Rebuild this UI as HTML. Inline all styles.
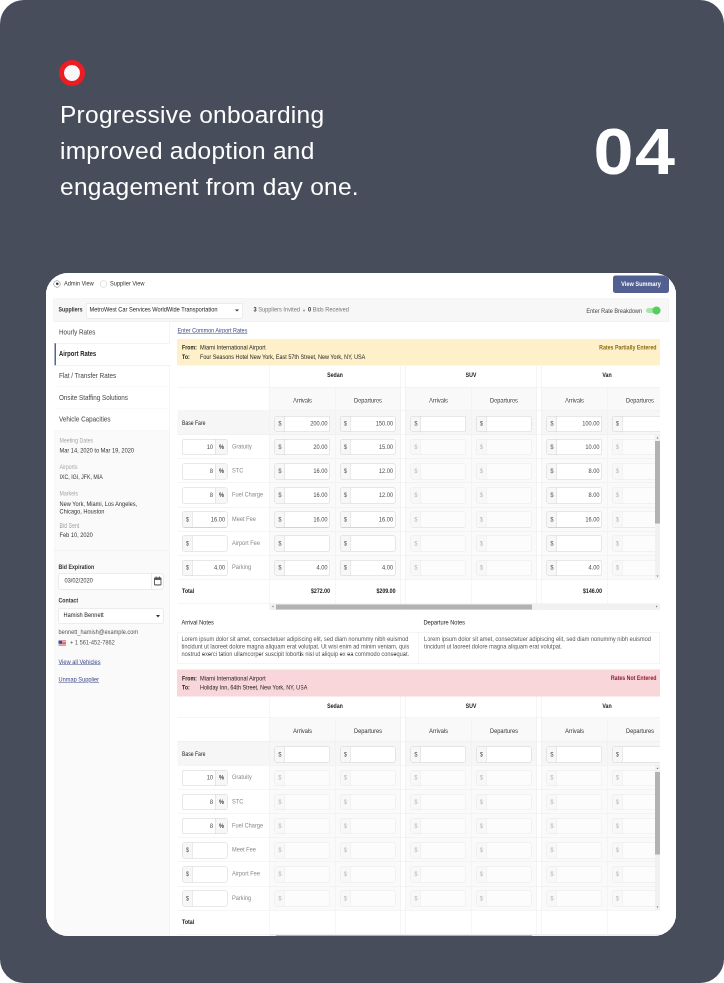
<!DOCTYPE html>
<html lang="en"><head><meta charset="utf-8"><title>Progressive onboarding</title>
<style>
*{box-sizing:border-box;margin:0;padding:0}
html,body{width:724px;height:983px;overflow:hidden;background:#fff}
body{font-family:"Liberation Sans",sans-serif;position:relative}
#bg{position:absolute;left:0;top:0;width:724px;height:983px;background:#474d5b;border-radius:24px;overflow:hidden}
#ring{position:absolute;left:58.9px;top:59.8px;width:26.4px;height:26.4px;border-radius:50%;border:5px solid #ec1c24;background:#f8f8f8}
#head{position:absolute;left:60px;top:97px;color:#fff;font-size:24.5px;line-height:36px;white-space:nowrap;letter-spacing:0.25px}
#num{position:absolute;right:47.5px;top:107.6px;color:#fff;font-size:65.4px;font-weight:bold;line-height:88px;letter-spacing:1.35px;transform:scaleX(1.10);transform-origin:100% 50%}
#card{position:absolute;left:46px;top:272.5px;width:629.8px;height:663px;border-radius:22px;overflow:hidden;background:#fff}
#app{will-change:transform;position:absolute;left:0;top:0;width:1260px;height:1325px;transform:scale(.5);transform-origin:0 0;background:#fff;font-size:13px;color:#333;overflow:hidden}
#app div,#app span{position:absolute;white-space:nowrap}
#app .t{line-height:16px;height:16px;transform:scaleX(0.87);transform-origin:0 50%}
#app .t.c{transform-origin:50% 50%;text-align:center}
#app .t.r{transform-origin:100% 50%;text-align:right}
#app .t.b{transform:scaleX(0.81);font-weight:bold}
#app .t.n{transform:scaleX(.78)}
#app b{font-weight:bold}
.g{color:#777}
.lk{color:#3f4a8a;text-decoration:underline}
.ig{height:32px;border:1px solid #d2d2d2;border-radius:4px;background:#fff;overflow:hidden}
.ig .ad{top:0;bottom:0;width:20px;background:#f7f7f7;border-right:1px solid #d6d6d6}
.ig .ad.rt{border-right:0;border-left:1px solid #d6d6d6}
.dis{opacity:.42}
.hl{height:1px;background:#ececec}
.vl{width:1px;background:#efefef}
</style></head>
<body>
<div id="bg">
<div id="ring"></div>
<div id="head">Progressive onboarding<br>improved adoption and<br>engagement from day one.</div>
<div id="num">04</div>
<div id="card"><div id="app">
<div class="" style="left:15px;top:14.7px;width:14px;height:14px;border:1.5px solid #6a6a6a;border-radius:50%;background:#fff"></div>
<div class="" style="left:19.5px;top:19.2px;width:5px;height:5px;border-radius:50%;background:#333"></div>
<span class="t " style="top:13.2px;left:36px;">Admin View</span>
<div class="" style="left:107.5px;top:14.7px;width:14px;height:14px;border:1.5px solid #c4c4c4;border-radius:50%;background:#fff"></div>
<span class="t " style="top:13.2px;left:128px;">Supplier View</span>
<div class="" style="left:1134px;top:4.5px;width:112px;height:35px;background:#515f91;border-radius:5px"></div>
<span class="t c  b" style="top:13.7px;left:1120.0px;width:140px;color:#fff;font-weight:bold;transform:scaleX(.86)"><b>View Summary</b></span>
<div class="" style="left:15px;top:50.5px;width:1231px;height:47.5px;background:#f7f7f7;border:1px solid #ececec"></div>
<span class="t  b" style="top:64.7px;left:25px;"><b>Suppliers</b></span>
<div class="" style="left:80px;top:59.5px;width:313.5px;height:31.5px;background:#fff;border:1px solid #dcdcdc;border-radius:4px"></div>
<span class="t " style="top:65.2px;left:87px;color:#222">MetroWest Car Services WorldWide Transportation</span>
<div class="" style="left:377.5px;top:72.5px;width:0px;height:0px;border-left:4px solid transparent;border-right:4px solid transparent;border-top:4.5px solid #333"></div>
<span class="t " style="top:64.7px;left:415px;"><b>3</b> <span style="position:static" class="g">Suppliers Invited</span></span>
<div class="" style="left:514px;top:72.5px;width:4px;height:4px;border-radius:50%;background:#999"></div>
<span class="t " style="top:64.7px;left:524px;"><b>0</b> <span style="position:static" class="g">Bids Received</span></span>
<span class="t r " style="top:67.5px;left:992px;width:200px;transform:scaleX(.85);color:#444">Enter Rate Breakdown</span>
<div class="" style="left:1200px;top:70px;width:28px;height:10px;background:#a9e5a9;border-radius:5px"></div>
<div class="" style="left:1213px;top:67px;width:16px;height:16px;background:#52d05e;border-radius:50%"></div>
<div class="" style="left:17px;top:98px;width:230px;height:1240px;background:#fafafa;border-right:1px solid #ececec;border-left:1px solid #f0f0f0"></div>
<div class="" style="left:17px;top:97.5px;width:230px;height:43.6px;background:#fff;border-bottom:1px solid #f4f4f4;border-right:1px solid #ececec"></div>
<span class="t " style="top:109.7px;left:26px;color:#444;font-size:14.5px">Hourly Rates</span>
<div class="" style="left:17px;top:140.1px;width:231px;height:44.6px;background:#fff;border-top:1px solid #e8e8e8;border-bottom:1px solid #e8e8e8;border-left:3px solid #56639a"></div>
<span class="t  b" style="top:153.29999999999998px;left:26px;color:#222;font-size:14.5px"><b>Airport Rates</b></span>
<div class="" style="left:17px;top:184.7px;width:230px;height:43.6px;background:#fff;border-bottom:1px solid #f4f4f4;border-right:1px solid #ececec"></div>
<span class="t " style="top:196.89999999999998px;left:26px;color:#444;font-size:14.5px">Flat / Transfer Rates</span>
<div class="" style="left:17px;top:228.3px;width:230px;height:43.6px;background:#fff;border-bottom:1px solid #f4f4f4;border-right:1px solid #ececec"></div>
<span class="t " style="top:240.5px;left:26px;color:#444;font-size:14.5px">Onsite Staffing Solutions</span>
<div class="" style="left:17px;top:271.9px;width:230px;height:43.6px;background:#fff;border-bottom:1px solid #f4f4f4;border-right:1px solid #ececec"></div>
<span class="t " style="top:284.09999999999997px;left:26px;color:#444;font-size:14.5px">Vehicle Capacities</span>
<span class="t " style="top:327.0px;left:27px;font-size:12px;color:#a5a5a5">Meeting Dates</span>
<span class="t " style="top:347.3px;left:27px;font-size:13px;color:#333">Mar 14, 2020 to Mar 19, 2020</span>
<span class="t " style="top:379.5px;left:27px;font-size:12px;color:#a5a5a5">Airports</span>
<span class="t " style="top:400.3px;left:27px;font-size:13px;color:#333;transform:scaleX(.81)">IXC, IGI, JFK, MIA</span>
<span class="t " style="top:433.0px;left:27px;font-size:12px;color:#a5a5a5">Markets</span>
<span class="t " style="top:453.8px;left:27px;font-size:13px;color:#333">New York, Miami, Los Angeles,</span>
<span class="t " style="top:469.3px;left:27px;font-size:13px;color:#333">Chicago, Houston</span>
<span class="t " style="top:496.5px;left:27px;font-size:12px;color:#a5a5a5">Bid Sent</span>
<span class="t " style="top:516.3000000000001px;left:27px;font-size:13px;color:#333">Feb 10, 2020</span>
<div class="hl" style="left:15px;top:555px;width:232px;height:1px;"></div>
<span class="t  b" style="top:579.5px;left:25px;"><b>Bid Expiration</b></span>
<div class="" style="left:25px;top:600px;width:210px;height:32.5px;background:#fff;border:1px solid #dcdcdc;border-radius:4px"></div>
<div class="" style="left:211px;top:600px;width:24px;height:32.5px;background:#fff;border:1px solid #dcdcdc;border-radius:0 4px 4px 0"></div>
<svg style="position:absolute;left:215.5px;top:607px" width="15" height="18" viewBox="0 0 12 13" preserveAspectRatio="none"><rect x="0.8" y="2" width="10.4" height="10.2" rx="1.2" fill="none" stroke="#555" stroke-width="1.5"/><rect x="0.8" y="2" width="10.4" height="3" fill="#555"/><rect x="2.6" y="0" width="1.6" height="3" fill="#555"/><rect x="7.8" y="0" width="1.6" height="3" fill="#555"/></svg>
<span class="t " style="top:607.2px;left:36.5px;color:#333">03/02/2020</span>
<span class="t  b" style="top:646.7px;left:25px;"><b>Contact</b></span>
<div class="" style="left:25px;top:669.8px;width:210px;height:32.2px;background:#fff;border:1px solid #dcdcdc;border-radius:4px"></div>
<span class="t " style="top:676.2px;left:35px;color:#222">Hamish Bennett</span>
<div class="" style="left:220px;top:683.5px;width:0px;height:0px;border-left:4.5px solid transparent;border-right:4.5px solid transparent;border-top:5px solid #333"></div>
<span class="t " style="top:709.7px;left:25px;color:#555">bennett_hamish@example.com</span>
<svg style="position:absolute;left:25px;top:735px" width="15" height="10" viewBox="0 0 15 10"><rect width="15" height="10" fill="#f3e9ea"/><g fill="#c8323f"><rect y="0" width="15" height="1.4"/><rect y="2.8" width="15" height="1.4"/><rect y="5.6" width="15" height="1.4"/><rect y="8.4" width="15" height="1.6"/></g><rect width="7" height="5.6" fill="#3c4a9a"/></svg>
<span class="t " style="top:730.7px;left:48px;color:#555">+ 1 561-452-7862</span>
<span class="t lk" style="top:769.7px;left:25px;">View all Vehicles</span>
<span class="t lk" style="top:804.7px;left:25px;">Unmap Supplier</span>
<span class="t lk" style="top:107.2px;left:262.5px;transform:scaleX(.84)">Enter Common Airport Rates</span>
<div class="" style="left:261.5px;top:131.5px;width:966.5px;height:53.5px;background:#fef1c9"></div>
<span class="t  b" style="top:141.2px;left:272px;color:#222"><b>From:</b></span>
<span class="t " style="top:141.2px;left:308px;color:#222">Miami International Airport</span>
<span class="t  b" style="top:159.7px;left:272px;color:#222"><b>To:</b></span>
<span class="t " style="top:159.7px;left:308px;color:#222;transform:scaleX(.84)">Four Seasons Hotel New York, East 57th Street, New York, NY, USA</span>
<span class="t r  b" style="top:140.7px;left:920.5px;width:300px;color:#8a6914"><b>Rates Partially Entered</b></span>
<div style="left:262.5px;top:185px;width:965.5px;height:490px;overflow:hidden">
<div class="" style="left:184.5px;top:43.5px;width:990px;height:47px;background:#f9f9f9"></div>
<div class="" style="left:0px;top:90.5px;width:990px;height:48.25px;background:#f6f6f6"></div>
<div class="" style="left:184.5px;top:138.75px;width:262px;height:289.5px;background:#fafafa"></div>
<div class="" style="left:456.5px;top:138.75px;width:262px;height:289.5px;background:#fafafa"></div>
<div class="" style="left:728.5px;top:138.75px;width:262px;height:289.5px;background:#fafafa"></div>
<div class="" style="left:446.5px;top:0px;width:10px;height:490px;background:#fff;border-left:1px solid #ececec;border-right:1px solid #ececec"></div>
<div class="" style="left:718.5px;top:0px;width:10px;height:490px;background:#fff;border-left:1px solid #ececec;border-right:1px solid #ececec"></div>
<div class="hl" style="left:0px;top:42.5px;width:990px;height:1px;"></div>
<div class="hl" style="left:0px;top:89.5px;width:990px;height:1px;"></div>
<div class="hl" style="left:0px;top:137.75px;width:990px;height:1px;"></div>
<div class="hl" style="left:0px;top:186.0px;width:990px;height:1px;"></div>
<div class="hl" style="left:0px;top:234.25px;width:990px;height:1px;"></div>
<div class="hl" style="left:0px;top:282.5px;width:990px;height:1px;"></div>
<div class="hl" style="left:0px;top:330.75px;width:990px;height:1px;"></div>
<div class="hl" style="left:0px;top:379.0px;width:990px;height:1px;"></div>
<div class="hl" style="left:0px;top:427.25px;width:990px;height:1px;"></div>
<div class="hl" style="left:0px;top:475.5px;width:990px;height:1px;"></div>
<div class="vl" style="left:183.5px;top:0px;width:1px;height:476px;"></div>
<div class="vl" style="left:315.5px;top:43.5px;width:1px;height:432.5px;"></div>
<div class="vl" style="left:587.5px;top:43.5px;width:1px;height:432.5px;"></div>
<div class="vl" style="left:859.5px;top:43.5px;width:1px;height:432.5px;"></div>
<span class="t c  b" style="top:11.2px;left:215.5px;width:200px;color:#222"><b>Sedan</b></span>
<span class="t c " style="top:61.7px;left:150.0px;width:200px;color:#333">Arrivals</span>
<span class="t c " style="top:61.7px;left:281.0px;width:200px;color:#333">Departures</span>
<span class="t c  b" style="top:11.2px;left:487.5px;width:200px;color:#222"><b>SUV</b></span>
<span class="t c " style="top:61.7px;left:422.0px;width:200px;color:#333">Arrivals</span>
<span class="t c " style="top:61.7px;left:553.0px;width:200px;color:#333">Departures</span>
<span class="t c  b" style="top:11.2px;left:759.5px;width:200px;color:#222"><b>Van</b></span>
<span class="t c " style="top:61.7px;left:694.0px;width:200px;color:#333">Arrivals</span>
<span class="t c " style="top:61.7px;left:825.0px;width:200px;color:#333">Departures</span>
<span class="t n" style="top:107.2px;left:9.5px;color:#222">Base Fare</span>
<div class="ig" style="left:194.5px;top:100.5px;width:111px"><div class="ad" style="left:0"></div><span class="t c" style="left:-20.5px;width:60px;top:6.5px;color:#555">$</span><span class="t r" style="left:-15px;width:120px;top:6.5px;color:#484848">200.00</span></div>
<div class="ig" style="left:325.5px;top:100.5px;width:111px"><div class="ad" style="left:0"></div><span class="t c" style="left:-20.5px;width:60px;top:6.5px;color:#555">$</span><span class="t r" style="left:-15px;width:120px;top:6.5px;color:#484848">150.00</span></div>
<div class="ig" style="left:466.5px;top:100.5px;width:111px"><div class="ad" style="left:0"></div><span class="t c" style="left:-20.5px;width:60px;top:6.5px;color:#555">$</span></div>
<div class="ig" style="left:597.5px;top:100.5px;width:111px"><div class="ad" style="left:0"></div><span class="t c" style="left:-20.5px;width:60px;top:6.5px;color:#555">$</span></div>
<div class="ig" style="left:738.5px;top:100.5px;width:111px"><div class="ad" style="left:0"></div><span class="t c" style="left:-20.5px;width:60px;top:6.5px;color:#555">$</span><span class="t r" style="left:-15px;width:120px;top:6.5px;color:#484848">100.00</span></div>
<div class="ig" style="left:869.5px;top:100.5px;width:111px"><div class="ad" style="left:0"></div><span class="t c" style="left:-20.5px;width:60px;top:6.5px;color:#555">$</span></div>
<div class="ig" style="left:9.5px;top:147.25px;width:91px"><div class="ad rt" style="right:0;width:24px"></div><span class="t c" style="left:48px;width:60px;top:6.5px;color:#444;font-size:13px"><b>%</b></span><span class="t r" style="left:-59px;width:120px;top:6.5px;color:#484848">10</span></div>
<span class="t " style="top:153.95px;left:109px;color:#888">Gratuity</span>
<div class="ig" style="left:194.5px;top:147.25px;width:111px"><div class="ad" style="left:0"></div><span class="t c" style="left:-20.5px;width:60px;top:6.5px;color:#555">$</span><span class="t r" style="left:-15px;width:120px;top:6.5px;color:#484848">20.00</span></div>
<div class="ig" style="left:325.5px;top:147.25px;width:111px"><div class="ad" style="left:0"></div><span class="t c" style="left:-20.5px;width:60px;top:6.5px;color:#555">$</span><span class="t r" style="left:-15px;width:120px;top:6.5px;color:#484848">15.00</span></div>
<div class="ig dis" style="left:466.5px;top:147.25px;width:111px"><div class="ad" style="left:0"></div><span class="t c" style="left:-20.5px;width:60px;top:6.5px;color:#555">$</span></div>
<div class="ig dis" style="left:597.5px;top:147.25px;width:111px"><div class="ad" style="left:0"></div><span class="t c" style="left:-20.5px;width:60px;top:6.5px;color:#555">$</span></div>
<div class="ig" style="left:738.5px;top:147.25px;width:111px"><div class="ad" style="left:0"></div><span class="t c" style="left:-20.5px;width:60px;top:6.5px;color:#555">$</span><span class="t r" style="left:-15px;width:120px;top:6.5px;color:#484848">10.00</span></div>
<div class="ig dis" style="left:869.5px;top:147.25px;width:111px"><div class="ad" style="left:0"></div><span class="t c" style="left:-20.5px;width:60px;top:6.5px;color:#555">$</span></div>
<div class="ig" style="left:9.5px;top:195.5px;width:91px"><div class="ad rt" style="right:0;width:24px"></div><span class="t c" style="left:48px;width:60px;top:6.5px;color:#444;font-size:13px"><b>%</b></span><span class="t r" style="left:-59px;width:120px;top:6.5px;color:#484848">8</span></div>
<span class="t " style="top:202.2px;left:109px;color:#888">STC</span>
<div class="ig" style="left:194.5px;top:195.5px;width:111px"><div class="ad" style="left:0"></div><span class="t c" style="left:-20.5px;width:60px;top:6.5px;color:#555">$</span><span class="t r" style="left:-15px;width:120px;top:6.5px;color:#484848">16.00</span></div>
<div class="ig" style="left:325.5px;top:195.5px;width:111px"><div class="ad" style="left:0"></div><span class="t c" style="left:-20.5px;width:60px;top:6.5px;color:#555">$</span><span class="t r" style="left:-15px;width:120px;top:6.5px;color:#484848">12.00</span></div>
<div class="ig dis" style="left:466.5px;top:195.5px;width:111px"><div class="ad" style="left:0"></div><span class="t c" style="left:-20.5px;width:60px;top:6.5px;color:#555">$</span></div>
<div class="ig dis" style="left:597.5px;top:195.5px;width:111px"><div class="ad" style="left:0"></div><span class="t c" style="left:-20.5px;width:60px;top:6.5px;color:#555">$</span></div>
<div class="ig" style="left:738.5px;top:195.5px;width:111px"><div class="ad" style="left:0"></div><span class="t c" style="left:-20.5px;width:60px;top:6.5px;color:#555">$</span><span class="t r" style="left:-15px;width:120px;top:6.5px;color:#484848">8.00</span></div>
<div class="ig dis" style="left:869.5px;top:195.5px;width:111px"><div class="ad" style="left:0"></div><span class="t c" style="left:-20.5px;width:60px;top:6.5px;color:#555">$</span></div>
<div class="ig" style="left:9.5px;top:243.75px;width:91px"><div class="ad rt" style="right:0;width:24px"></div><span class="t c" style="left:48px;width:60px;top:6.5px;color:#444;font-size:13px"><b>%</b></span><span class="t r" style="left:-59px;width:120px;top:6.5px;color:#484848">8</span></div>
<span class="t " style="top:250.45px;left:109px;color:#888">Fuel Charge</span>
<div class="ig" style="left:194.5px;top:243.75px;width:111px"><div class="ad" style="left:0"></div><span class="t c" style="left:-20.5px;width:60px;top:6.5px;color:#555">$</span><span class="t r" style="left:-15px;width:120px;top:6.5px;color:#484848">16.00</span></div>
<div class="ig" style="left:325.5px;top:243.75px;width:111px"><div class="ad" style="left:0"></div><span class="t c" style="left:-20.5px;width:60px;top:6.5px;color:#555">$</span><span class="t r" style="left:-15px;width:120px;top:6.5px;color:#484848">12.00</span></div>
<div class="ig dis" style="left:466.5px;top:243.75px;width:111px"><div class="ad" style="left:0"></div><span class="t c" style="left:-20.5px;width:60px;top:6.5px;color:#555">$</span></div>
<div class="ig dis" style="left:597.5px;top:243.75px;width:111px"><div class="ad" style="left:0"></div><span class="t c" style="left:-20.5px;width:60px;top:6.5px;color:#555">$</span></div>
<div class="ig" style="left:738.5px;top:243.75px;width:111px"><div class="ad" style="left:0"></div><span class="t c" style="left:-20.5px;width:60px;top:6.5px;color:#555">$</span><span class="t r" style="left:-15px;width:120px;top:6.5px;color:#484848">8.00</span></div>
<div class="ig dis" style="left:869.5px;top:243.75px;width:111px"><div class="ad" style="left:0"></div><span class="t c" style="left:-20.5px;width:60px;top:6.5px;color:#555">$</span></div>
<div class="ig" style="left:9.5px;top:292.0px;width:91px"><div class="ad" style="left:0"></div><span class="t c" style="left:-20.5px;width:60px;top:6.5px;color:#555">$</span><span class="t r" style="left:-35px;width:120px;top:6.5px;color:#484848">16.00</span></div>
<span class="t " style="top:298.7px;left:109px;color:#888">Meet Fee</span>
<div class="ig" style="left:194.5px;top:292.0px;width:111px"><div class="ad" style="left:0"></div><span class="t c" style="left:-20.5px;width:60px;top:6.5px;color:#555">$</span><span class="t r" style="left:-15px;width:120px;top:6.5px;color:#484848">16.00</span></div>
<div class="ig" style="left:325.5px;top:292.0px;width:111px"><div class="ad" style="left:0"></div><span class="t c" style="left:-20.5px;width:60px;top:6.5px;color:#555">$</span><span class="t r" style="left:-15px;width:120px;top:6.5px;color:#484848">16.00</span></div>
<div class="ig dis" style="left:466.5px;top:292.0px;width:111px"><div class="ad" style="left:0"></div><span class="t c" style="left:-20.5px;width:60px;top:6.5px;color:#555">$</span></div>
<div class="ig dis" style="left:597.5px;top:292.0px;width:111px"><div class="ad" style="left:0"></div><span class="t c" style="left:-20.5px;width:60px;top:6.5px;color:#555">$</span></div>
<div class="ig" style="left:738.5px;top:292.0px;width:111px"><div class="ad" style="left:0"></div><span class="t c" style="left:-20.5px;width:60px;top:6.5px;color:#555">$</span><span class="t r" style="left:-15px;width:120px;top:6.5px;color:#484848">16.00</span></div>
<div class="ig dis" style="left:869.5px;top:292.0px;width:111px"><div class="ad" style="left:0"></div><span class="t c" style="left:-20.5px;width:60px;top:6.5px;color:#555">$</span></div>
<div class="ig" style="left:9.5px;top:340.25px;width:91px"><div class="ad" style="left:0"></div><span class="t c" style="left:-20.5px;width:60px;top:6.5px;color:#555">$</span></div>
<span class="t " style="top:346.95px;left:109px;color:#888">Airport Fee</span>
<div class="ig" style="left:194.5px;top:340.25px;width:111px"><div class="ad" style="left:0"></div><span class="t c" style="left:-20.5px;width:60px;top:6.5px;color:#555">$</span></div>
<div class="ig" style="left:325.5px;top:340.25px;width:111px"><div class="ad" style="left:0"></div><span class="t c" style="left:-20.5px;width:60px;top:6.5px;color:#555">$</span></div>
<div class="ig dis" style="left:466.5px;top:340.25px;width:111px"><div class="ad" style="left:0"></div><span class="t c" style="left:-20.5px;width:60px;top:6.5px;color:#555">$</span></div>
<div class="ig dis" style="left:597.5px;top:340.25px;width:111px"><div class="ad" style="left:0"></div><span class="t c" style="left:-20.5px;width:60px;top:6.5px;color:#555">$</span></div>
<div class="ig" style="left:738.5px;top:340.25px;width:111px"><div class="ad" style="left:0"></div><span class="t c" style="left:-20.5px;width:60px;top:6.5px;color:#555">$</span></div>
<div class="ig dis" style="left:869.5px;top:340.25px;width:111px"><div class="ad" style="left:0"></div><span class="t c" style="left:-20.5px;width:60px;top:6.5px;color:#555">$</span></div>
<div class="ig" style="left:9.5px;top:388.5px;width:91px"><div class="ad" style="left:0"></div><span class="t c" style="left:-20.5px;width:60px;top:6.5px;color:#555">$</span><span class="t r" style="left:-35px;width:120px;top:6.5px;color:#484848">4.00</span></div>
<span class="t " style="top:395.2px;left:109px;color:#888">Parking</span>
<div class="ig" style="left:194.5px;top:388.5px;width:111px"><div class="ad" style="left:0"></div><span class="t c" style="left:-20.5px;width:60px;top:6.5px;color:#555">$</span><span class="t r" style="left:-15px;width:120px;top:6.5px;color:#484848">4.00</span></div>
<div class="ig" style="left:325.5px;top:388.5px;width:111px"><div class="ad" style="left:0"></div><span class="t c" style="left:-20.5px;width:60px;top:6.5px;color:#555">$</span><span class="t r" style="left:-15px;width:120px;top:6.5px;color:#484848">4.00</span></div>
<div class="ig dis" style="left:466.5px;top:388.5px;width:111px"><div class="ad" style="left:0"></div><span class="t c" style="left:-20.5px;width:60px;top:6.5px;color:#555">$</span></div>
<div class="ig dis" style="left:597.5px;top:388.5px;width:111px"><div class="ad" style="left:0"></div><span class="t c" style="left:-20.5px;width:60px;top:6.5px;color:#555">$</span></div>
<div class="ig" style="left:738.5px;top:388.5px;width:111px"><div class="ad" style="left:0"></div><span class="t c" style="left:-20.5px;width:60px;top:6.5px;color:#555">$</span><span class="t r" style="left:-15px;width:120px;top:6.5px;color:#484848">4.00</span></div>
<div class="ig dis" style="left:869.5px;top:388.5px;width:111px"><div class="ad" style="left:0"></div><span class="t c" style="left:-20.5px;width:60px;top:6.5px;color:#555">$</span></div>
<span class="t  b" style="top:443.15px;left:9.5px;color:#222"><b>Total</b></span>
<span class="t r  b" style="top:443.15px;left:185.5px;width:120px;color:#222"><b>$272.00</b></span>
<span class="t r  b" style="top:443.15px;left:316.5px;width:120px;color:#222"><b>$209.00</b></span>
<span class="t r  b" style="top:443.15px;left:729.5px;width:120px;color:#222"><b>$146.00</b></span>
<div class="" style="left:184.5px;top:476.5px;width:805.5px;height:12.5px;background:#f1f1f1"></div>
<div class="" style="left:197.5px;top:477.5px;width:512px;height:10.5px;background:#b2b2b2"></div>
<div class="" style="left:189.5px;top:480.0px;width:0px;height:0px;border-top:2.5px solid transparent;border-bottom:2.5px solid transparent;border-right:3px solid #777"></div>
<div class="" style="left:957.5px;top:480.0px;width:0px;height:0px;border-top:2.5px solid transparent;border-bottom:2.5px solid transparent;border-left:3px solid #777"></div>
<div class="" style="left:955.5px;top:138.75px;width:10px;height:289.5px;background:#f1f1f1"></div>
<div class="" style="left:955.5px;top:151.25px;width:10px;height:165px;background:#b2b2b2"></div>
<div class="" style="left:958.0px;top:142.75px;width:0px;height:0px;border-left:2.5px solid transparent;border-right:2.5px solid transparent;border-bottom:3px solid #777"></div>
<div class="" style="left:958.0px;top:420.25px;width:0px;height:0px;border-left:2.5px solid transparent;border-right:2.5px solid transparent;border-top:3px solid #777"></div>
</div>
<div class="" style="left:262.5px;top:717.5px;width:483.75px;height:64.5px;border:1px solid #ececec;background:#fff"></div>
<div class="" style="left:745.25px;top:717.5px;width:482.75px;height:64.5px;border:1px solid #ececec;background:#fff"></div>
<span class="t " style="top:690.9000000000001px;left:271px;color:#222">Arrival Notes</span>
<span class="t " style="top:690.9000000000001px;left:754.5px;color:#222">Departure Notes</span>
<span class="t " style="top:724.0px;left:270.5px;color:#555;font-size:13px">Lorem ipsum dolor sit amet, consectetuer adipiscing elit, sed diam nonummy nibh euismod</span>
<span class="t " style="top:739.1px;left:270.5px;color:#555;font-size:13px">tincidunt ut laoreet dolore magna aliquam erat volutpat. Ut wisi enim ad minim veniam, quis</span>
<span class="t " style="top:754.2px;left:270.5px;color:#555;font-size:13px">nostrud exerci tation ullamcorper suscipit lobortis nisl ut aliquip ex ea commodo consequat.</span>
<span class="t " style="top:724.0px;left:756px;color:#555;font-size:13px">Lorem ipsum dolor sit amet, consectetuer adipiscing elit, sed diam nonummy nibh euismod</span>
<span class="t " style="top:739.1px;left:756px;color:#555;font-size:13px">tincidunt ut laoreet dolore magna aliquam erat volutpat.</span>
<div class="" style="left:261.5px;top:793.0px;width:966.5px;height:53.5px;background:#f8d6da"></div>
<span class="t  b" style="top:802.7px;left:272px;color:#222"><b>From:</b></span>
<span class="t " style="top:802.7px;left:308px;color:#222">Miami International Airport</span>
<span class="t  b" style="top:821.2px;left:272px;color:#222"><b>To:</b></span>
<span class="t " style="top:821.2px;left:308px;color:#222;transform:scaleX(.84)">Holiday Inn, 64th Street, New York, NY, USA</span>
<span class="t r  b" style="top:802.2px;left:920.5px;width:300px;color:#8f1d2c"><b>Rates Not Entered</b></span>
<div style="left:262.5px;top:846.5px;width:965.5px;height:490px;overflow:hidden">
<div class="" style="left:184.5px;top:43.5px;width:990px;height:47px;background:#f9f9f9"></div>
<div class="" style="left:0px;top:90.5px;width:990px;height:48.25px;background:#f6f6f6"></div>
<div class="" style="left:184.5px;top:138.75px;width:262px;height:289.5px;background:#fafafa"></div>
<div class="" style="left:456.5px;top:138.75px;width:262px;height:289.5px;background:#fafafa"></div>
<div class="" style="left:728.5px;top:138.75px;width:262px;height:289.5px;background:#fafafa"></div>
<div class="" style="left:446.5px;top:0px;width:10px;height:490px;background:#fff;border-left:1px solid #ececec;border-right:1px solid #ececec"></div>
<div class="" style="left:718.5px;top:0px;width:10px;height:490px;background:#fff;border-left:1px solid #ececec;border-right:1px solid #ececec"></div>
<div class="hl" style="left:0px;top:42.5px;width:990px;height:1px;"></div>
<div class="hl" style="left:0px;top:89.5px;width:990px;height:1px;"></div>
<div class="hl" style="left:0px;top:137.75px;width:990px;height:1px;"></div>
<div class="hl" style="left:0px;top:186.0px;width:990px;height:1px;"></div>
<div class="hl" style="left:0px;top:234.25px;width:990px;height:1px;"></div>
<div class="hl" style="left:0px;top:282.5px;width:990px;height:1px;"></div>
<div class="hl" style="left:0px;top:330.75px;width:990px;height:1px;"></div>
<div class="hl" style="left:0px;top:379.0px;width:990px;height:1px;"></div>
<div class="hl" style="left:0px;top:427.25px;width:990px;height:1px;"></div>
<div class="hl" style="left:0px;top:475.5px;width:990px;height:1px;"></div>
<div class="vl" style="left:183.5px;top:0px;width:1px;height:476px;"></div>
<div class="vl" style="left:315.5px;top:43.5px;width:1px;height:432.5px;"></div>
<div class="vl" style="left:587.5px;top:43.5px;width:1px;height:432.5px;"></div>
<div class="vl" style="left:859.5px;top:43.5px;width:1px;height:432.5px;"></div>
<span class="t c  b" style="top:11.2px;left:215.5px;width:200px;color:#222"><b>Sedan</b></span>
<span class="t c " style="top:61.7px;left:150.0px;width:200px;color:#333">Arrivals</span>
<span class="t c " style="top:61.7px;left:281.0px;width:200px;color:#333">Departures</span>
<span class="t c  b" style="top:11.2px;left:487.5px;width:200px;color:#222"><b>SUV</b></span>
<span class="t c " style="top:61.7px;left:422.0px;width:200px;color:#333">Arrivals</span>
<span class="t c " style="top:61.7px;left:553.0px;width:200px;color:#333">Departures</span>
<span class="t c  b" style="top:11.2px;left:759.5px;width:200px;color:#222"><b>Van</b></span>
<span class="t c " style="top:61.7px;left:694.0px;width:200px;color:#333">Arrivals</span>
<span class="t c " style="top:61.7px;left:825.0px;width:200px;color:#333">Departures</span>
<span class="t n" style="top:107.2px;left:9.5px;color:#222">Base Fare</span>
<div class="ig" style="left:194.5px;top:100.5px;width:111px"><div class="ad" style="left:0"></div><span class="t c" style="left:-20.5px;width:60px;top:6.5px;color:#555">$</span></div>
<div class="ig" style="left:325.5px;top:100.5px;width:111px"><div class="ad" style="left:0"></div><span class="t c" style="left:-20.5px;width:60px;top:6.5px;color:#555">$</span></div>
<div class="ig" style="left:466.5px;top:100.5px;width:111px"><div class="ad" style="left:0"></div><span class="t c" style="left:-20.5px;width:60px;top:6.5px;color:#555">$</span></div>
<div class="ig" style="left:597.5px;top:100.5px;width:111px"><div class="ad" style="left:0"></div><span class="t c" style="left:-20.5px;width:60px;top:6.5px;color:#555">$</span></div>
<div class="ig" style="left:738.5px;top:100.5px;width:111px"><div class="ad" style="left:0"></div><span class="t c" style="left:-20.5px;width:60px;top:6.5px;color:#555">$</span></div>
<div class="ig" style="left:869.5px;top:100.5px;width:111px"><div class="ad" style="left:0"></div><span class="t c" style="left:-20.5px;width:60px;top:6.5px;color:#555">$</span></div>
<div class="ig" style="left:9.5px;top:147.25px;width:91px"><div class="ad rt" style="right:0;width:24px"></div><span class="t c" style="left:48px;width:60px;top:6.5px;color:#444;font-size:13px"><b>%</b></span><span class="t r" style="left:-59px;width:120px;top:6.5px;color:#484848">10</span></div>
<span class="t " style="top:153.95px;left:109px;color:#888">Gratuity</span>
<div class="ig dis" style="left:194.5px;top:147.25px;width:111px"><div class="ad" style="left:0"></div><span class="t c" style="left:-20.5px;width:60px;top:6.5px;color:#555">$</span></div>
<div class="ig dis" style="left:325.5px;top:147.25px;width:111px"><div class="ad" style="left:0"></div><span class="t c" style="left:-20.5px;width:60px;top:6.5px;color:#555">$</span></div>
<div class="ig dis" style="left:466.5px;top:147.25px;width:111px"><div class="ad" style="left:0"></div><span class="t c" style="left:-20.5px;width:60px;top:6.5px;color:#555">$</span></div>
<div class="ig dis" style="left:597.5px;top:147.25px;width:111px"><div class="ad" style="left:0"></div><span class="t c" style="left:-20.5px;width:60px;top:6.5px;color:#555">$</span></div>
<div class="ig dis" style="left:738.5px;top:147.25px;width:111px"><div class="ad" style="left:0"></div><span class="t c" style="left:-20.5px;width:60px;top:6.5px;color:#555">$</span></div>
<div class="ig dis" style="left:869.5px;top:147.25px;width:111px"><div class="ad" style="left:0"></div><span class="t c" style="left:-20.5px;width:60px;top:6.5px;color:#555">$</span></div>
<div class="ig" style="left:9.5px;top:195.5px;width:91px"><div class="ad rt" style="right:0;width:24px"></div><span class="t c" style="left:48px;width:60px;top:6.5px;color:#444;font-size:13px"><b>%</b></span><span class="t r" style="left:-59px;width:120px;top:6.5px;color:#484848">8</span></div>
<span class="t " style="top:202.2px;left:109px;color:#888">STC</span>
<div class="ig dis" style="left:194.5px;top:195.5px;width:111px"><div class="ad" style="left:0"></div><span class="t c" style="left:-20.5px;width:60px;top:6.5px;color:#555">$</span></div>
<div class="ig dis" style="left:325.5px;top:195.5px;width:111px"><div class="ad" style="left:0"></div><span class="t c" style="left:-20.5px;width:60px;top:6.5px;color:#555">$</span></div>
<div class="ig dis" style="left:466.5px;top:195.5px;width:111px"><div class="ad" style="left:0"></div><span class="t c" style="left:-20.5px;width:60px;top:6.5px;color:#555">$</span></div>
<div class="ig dis" style="left:597.5px;top:195.5px;width:111px"><div class="ad" style="left:0"></div><span class="t c" style="left:-20.5px;width:60px;top:6.5px;color:#555">$</span></div>
<div class="ig dis" style="left:738.5px;top:195.5px;width:111px"><div class="ad" style="left:0"></div><span class="t c" style="left:-20.5px;width:60px;top:6.5px;color:#555">$</span></div>
<div class="ig dis" style="left:869.5px;top:195.5px;width:111px"><div class="ad" style="left:0"></div><span class="t c" style="left:-20.5px;width:60px;top:6.5px;color:#555">$</span></div>
<div class="ig" style="left:9.5px;top:243.75px;width:91px"><div class="ad rt" style="right:0;width:24px"></div><span class="t c" style="left:48px;width:60px;top:6.5px;color:#444;font-size:13px"><b>%</b></span><span class="t r" style="left:-59px;width:120px;top:6.5px;color:#484848">8</span></div>
<span class="t " style="top:250.45px;left:109px;color:#888">Fuel Charge</span>
<div class="ig dis" style="left:194.5px;top:243.75px;width:111px"><div class="ad" style="left:0"></div><span class="t c" style="left:-20.5px;width:60px;top:6.5px;color:#555">$</span></div>
<div class="ig dis" style="left:325.5px;top:243.75px;width:111px"><div class="ad" style="left:0"></div><span class="t c" style="left:-20.5px;width:60px;top:6.5px;color:#555">$</span></div>
<div class="ig dis" style="left:466.5px;top:243.75px;width:111px"><div class="ad" style="left:0"></div><span class="t c" style="left:-20.5px;width:60px;top:6.5px;color:#555">$</span></div>
<div class="ig dis" style="left:597.5px;top:243.75px;width:111px"><div class="ad" style="left:0"></div><span class="t c" style="left:-20.5px;width:60px;top:6.5px;color:#555">$</span></div>
<div class="ig dis" style="left:738.5px;top:243.75px;width:111px"><div class="ad" style="left:0"></div><span class="t c" style="left:-20.5px;width:60px;top:6.5px;color:#555">$</span></div>
<div class="ig dis" style="left:869.5px;top:243.75px;width:111px"><div class="ad" style="left:0"></div><span class="t c" style="left:-20.5px;width:60px;top:6.5px;color:#555">$</span></div>
<div class="ig" style="left:9.5px;top:292.0px;width:91px"><div class="ad" style="left:0"></div><span class="t c" style="left:-20.5px;width:60px;top:6.5px;color:#555">$</span></div>
<span class="t " style="top:298.7px;left:109px;color:#888">Meet Fee</span>
<div class="ig dis" style="left:194.5px;top:292.0px;width:111px"><div class="ad" style="left:0"></div><span class="t c" style="left:-20.5px;width:60px;top:6.5px;color:#555">$</span></div>
<div class="ig dis" style="left:325.5px;top:292.0px;width:111px"><div class="ad" style="left:0"></div><span class="t c" style="left:-20.5px;width:60px;top:6.5px;color:#555">$</span></div>
<div class="ig dis" style="left:466.5px;top:292.0px;width:111px"><div class="ad" style="left:0"></div><span class="t c" style="left:-20.5px;width:60px;top:6.5px;color:#555">$</span></div>
<div class="ig dis" style="left:597.5px;top:292.0px;width:111px"><div class="ad" style="left:0"></div><span class="t c" style="left:-20.5px;width:60px;top:6.5px;color:#555">$</span></div>
<div class="ig dis" style="left:738.5px;top:292.0px;width:111px"><div class="ad" style="left:0"></div><span class="t c" style="left:-20.5px;width:60px;top:6.5px;color:#555">$</span></div>
<div class="ig dis" style="left:869.5px;top:292.0px;width:111px"><div class="ad" style="left:0"></div><span class="t c" style="left:-20.5px;width:60px;top:6.5px;color:#555">$</span></div>
<div class="ig" style="left:9.5px;top:340.25px;width:91px"><div class="ad" style="left:0"></div><span class="t c" style="left:-20.5px;width:60px;top:6.5px;color:#555">$</span></div>
<span class="t " style="top:346.95px;left:109px;color:#888">Airport Fee</span>
<div class="ig dis" style="left:194.5px;top:340.25px;width:111px"><div class="ad" style="left:0"></div><span class="t c" style="left:-20.5px;width:60px;top:6.5px;color:#555">$</span></div>
<div class="ig dis" style="left:325.5px;top:340.25px;width:111px"><div class="ad" style="left:0"></div><span class="t c" style="left:-20.5px;width:60px;top:6.5px;color:#555">$</span></div>
<div class="ig dis" style="left:466.5px;top:340.25px;width:111px"><div class="ad" style="left:0"></div><span class="t c" style="left:-20.5px;width:60px;top:6.5px;color:#555">$</span></div>
<div class="ig dis" style="left:597.5px;top:340.25px;width:111px"><div class="ad" style="left:0"></div><span class="t c" style="left:-20.5px;width:60px;top:6.5px;color:#555">$</span></div>
<div class="ig dis" style="left:738.5px;top:340.25px;width:111px"><div class="ad" style="left:0"></div><span class="t c" style="left:-20.5px;width:60px;top:6.5px;color:#555">$</span></div>
<div class="ig dis" style="left:869.5px;top:340.25px;width:111px"><div class="ad" style="left:0"></div><span class="t c" style="left:-20.5px;width:60px;top:6.5px;color:#555">$</span></div>
<div class="ig" style="left:9.5px;top:388.5px;width:91px"><div class="ad" style="left:0"></div><span class="t c" style="left:-20.5px;width:60px;top:6.5px;color:#555">$</span></div>
<span class="t " style="top:395.2px;left:109px;color:#888">Parking</span>
<div class="ig dis" style="left:194.5px;top:388.5px;width:111px"><div class="ad" style="left:0"></div><span class="t c" style="left:-20.5px;width:60px;top:6.5px;color:#555">$</span></div>
<div class="ig dis" style="left:325.5px;top:388.5px;width:111px"><div class="ad" style="left:0"></div><span class="t c" style="left:-20.5px;width:60px;top:6.5px;color:#555">$</span></div>
<div class="ig dis" style="left:466.5px;top:388.5px;width:111px"><div class="ad" style="left:0"></div><span class="t c" style="left:-20.5px;width:60px;top:6.5px;color:#555">$</span></div>
<div class="ig dis" style="left:597.5px;top:388.5px;width:111px"><div class="ad" style="left:0"></div><span class="t c" style="left:-20.5px;width:60px;top:6.5px;color:#555">$</span></div>
<div class="ig dis" style="left:738.5px;top:388.5px;width:111px"><div class="ad" style="left:0"></div><span class="t c" style="left:-20.5px;width:60px;top:6.5px;color:#555">$</span></div>
<div class="ig dis" style="left:869.5px;top:388.5px;width:111px"><div class="ad" style="left:0"></div><span class="t c" style="left:-20.5px;width:60px;top:6.5px;color:#555">$</span></div>
<span class="t  b" style="top:443.15px;left:9.5px;color:#222"><b>Total</b></span>
<div class="" style="left:184.5px;top:476.5px;width:805.5px;height:12.5px;background:#f1f1f1"></div>
<div class="" style="left:197.5px;top:477.5px;width:512px;height:10.5px;background:#b2b2b2"></div>
<div class="" style="left:189.5px;top:480.0px;width:0px;height:0px;border-top:2.5px solid transparent;border-bottom:2.5px solid transparent;border-right:3px solid #777"></div>
<div class="" style="left:957.5px;top:480.0px;width:0px;height:0px;border-top:2.5px solid transparent;border-bottom:2.5px solid transparent;border-left:3px solid #777"></div>
<div class="" style="left:955.5px;top:138.75px;width:10px;height:289.5px;background:#f1f1f1"></div>
<div class="" style="left:955.5px;top:151.25px;width:10px;height:165px;background:#b2b2b2"></div>
<div class="" style="left:958.0px;top:142.75px;width:0px;height:0px;border-left:2.5px solid transparent;border-right:2.5px solid transparent;border-bottom:3px solid #777"></div>
<div class="" style="left:958.0px;top:420.25px;width:0px;height:0px;border-left:2.5px solid transparent;border-right:2.5px solid transparent;border-top:3px solid #777"></div>
</div>
</div></div>
</div>
</body></html>
